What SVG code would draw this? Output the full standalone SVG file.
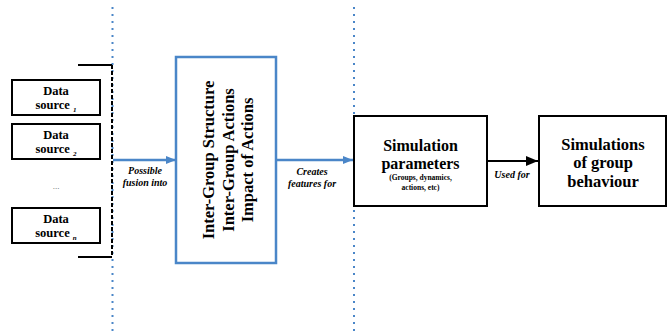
<svg xmlns="http://www.w3.org/2000/svg" width="668" height="332" viewBox="0 0 668 332">
<style>
.box{fill:#fff;stroke:#000;stroke-width:2}
.bbox{fill:#fff;stroke:#4a86c8;stroke-width:2.5}
.t{font-weight:bold;fill:#000;text-anchor:middle}
.lbl{font-weight:bold;font-style:italic;fill:#000;text-anchor:middle;font-size:10px}
.dot{stroke:#4a86c8;stroke-width:2;stroke-dasharray:2 5;fill:none}
.blue{stroke:#4a86c8;stroke-width:2.5;fill:none}
</style>
<defs>
<marker id="ab" markerWidth="10" markerHeight="8" refX="10" refY="4" orient="auto" markerUnits="userSpaceOnUse"><path d="M0,0 L10,4 L0,8 Z" fill="#4a86c8"/></marker>
<marker id="ak" markerWidth="12" markerHeight="10" refX="12" refY="5" orient="auto" markerUnits="userSpaceOnUse"><path d="M0,0 L12,5 L0,10 Z" fill="#000"/></marker>
</defs>
<g font-family="Liberation Serif, Times New Roman, serif">
<g id="separators">
<line class="dot" x1="112.5" y1="7" x2="112.5" y2="332"/>
<line class="dot" x1="354" y1="7" x2="354" y2="332"/>
</g>
<g id="ds1"><rect class="box" x="12" y="80" width="88" height="35"/><text class="t" font-size="12.5" x="56" y="95">Data</text><text class="t" font-size="12.5" x="56" y="109">source <tspan font-size="7" font-style="italic" dy="3">1</tspan></text></g>
<g id="ds2"><rect class="box" x="12" y="124" width="88" height="35"/><text class="t" font-size="12.5" x="56" y="139">Data</text><text class="t" font-size="12.5" x="56" y="153">source <tspan font-size="7" font-style="italic" dy="3">2</tspan></text></g>
<g id="dots"><text x="56" y="189" font-size="9" fill="#666" text-anchor="middle">...</text></g>
<g id="dsn"><rect class="box" x="12" y="208" width="88" height="35"/><text class="t" font-size="12.5" x="56" y="223">Data</text><text class="t" font-size="12.5" x="56" y="237">source <tspan font-size="7" font-style="italic" dy="3">n</tspan></text></g>
<g id="bracket" fill="none" stroke="#000" stroke-width="2">
<path d="M78,65 H112 M112,257 H78"/>
<line x1="112" y1="65" x2="112" y2="257" stroke-dasharray="4 2"/>
</g>
<g id="inter"><rect class="bbox" x="176" y="57" width="100" height="206"/>
<text class="t" font-size="16.5" transform="translate(214,160) rotate(-90)">Inter-Group Structure</text>
<text class="t" font-size="16.5" transform="translate(233.5,160) rotate(-90)">Inter-Group Actions</text>
<text class="t" font-size="16.5" transform="translate(253,160) rotate(-90)">Impact of Actions</text>
</g>
<g id="simparams"><rect class="box" x="354" y="116" width="133" height="90"/>
<text class="t" font-size="16" x="420.5" y="151">Simulation</text>
<text class="t" font-size="16" x="420.5" y="169">parameters</text>
<text class="t" font-size="7.5" x="420.5" y="180">(Groups, dynamics,</text>
<text class="t" font-size="7.5" x="420.5" y="190">actions, etc)</text>
</g>
<g id="sims"><rect class="box" x="539" y="116" width="127" height="90"/>
<text class="t" font-size="16.5" x="603" y="150">Simulations</text>
<text class="t" font-size="16.5" x="603" y="168">of group</text>
<text class="t" font-size="16.5" x="603" y="187">behaviour</text>
</g>
<g id="connectors">
<line class="blue" x1="113" y1="160" x2="176" y2="160" marker-end="url(#ab)"/>
<line class="blue" x1="276" y1="160" x2="353" y2="160" marker-end="url(#ab)"/>
<line x1="487" y1="161" x2="538" y2="161" stroke="#000" stroke-width="2" marker-end="url(#ak)"/>
<text class="lbl" x="145" y="174">Possible</text>
<text class="lbl" x="145" y="186">fusion into</text>
<text class="lbl" x="312" y="175">Creates</text>
<text class="lbl" x="312" y="187">features for</text>
<text class="lbl" x="512" y="178">Used for</text>
</g>
</g>
</svg>
